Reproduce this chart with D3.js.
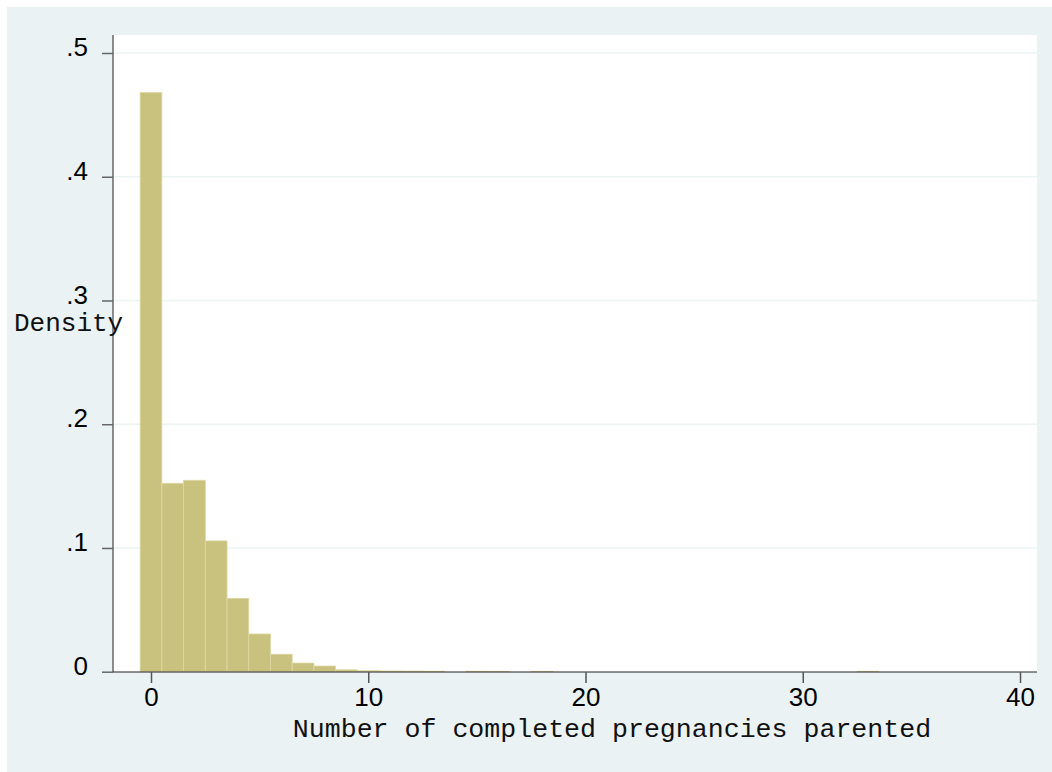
<!DOCTYPE html>
<html>
<head>
<meta charset="utf-8">
<script src="https://cdn.jsdelivr.net/npm/d3@7"></script>
<style>
  body { margin: 0; background: #fff; }
  svg { display: block; }
</style>
</head>
<body>
<svg id="chart" width="1052" height="772"></svg>
<script>
// histogram bins (bin centre, width 1) and their density
let binCenters = [0, 1, 2, 3, 4, 5, 6, 7, 8, 9, 10, 11, 12, 13, 15, 16, 18, 33]
let densities = [0.468, 0.1523, 0.1547, 0.1057, 0.0593, 0.0305, 0.0141, 0.0070, 0.0046, 0.0015,
    0.0008, 0.0006, 0.0005, 0.0004, 0.0004, 0.0003, 0.0003, 0.0004]
let xTicks = [0, 10, 20, 30, 40]
let yTicks = [0, 0.1, 0.2, 0.3, 0.4, 0.5]
let yTickLabels = ["0", ".1", ".2", ".3", ".4", ".5"]

let svg = d3.select("#chart")

// outer graph region
svg.append("rect").attr("x", 7).attr("y", 7).attr("width", 1045).attr("height", 765).attr("fill", "#eaf2f3")

let plot = { left: 113, right: 1037, top: 35, bottom: 672 }

svg.append("rect")
    .attr("x", plot.left)
    .attr("y", plot.top)
    .attr("width", plot.right - plot.left)
    .attr("height", plot.bottom - plot.top)
    .attr("fill", "#fff")

let x = d3.scaleLinear().domain([0, 40]).range([151, 1020])
let y = d3.scaleLinear().domain([0, 0.5]).range([671.7, 53])

// grid
svg.append("g")
    .selectAll("line")
    .data(yTicks.slice(1))
    .enter()
    .append("line")
    .attr("x1", plot.left)
    .attr("x2", plot.right)
    .attr("y1", (d) => y(d))
    .attr("y2", (d) => y(d))
    .attr("stroke", "#edf3f3")
    .attr("stroke-width", 1.5)

// bars
svg.append("g")
    .selectAll("rect")
    .data(binCenters)
    .enter()
    .append("rect")
    .attr("x", (d) => x(d - 0.5))
    .attr("width", (d) => x(d + 0.5) - x(d - 0.5))
    .attr("y", (d, i) => y(densities[i]))
    .attr("height", (d, i) => y(0) - y(densities[i]))
    .attr("fill", "#c9c27e")
    .attr("stroke", "#ddd8a4")
    .attr("stroke-width", 0.8)

// y axis
let yAxis = d3.axisLeft(y)
    .tickValues(yTicks)
    .tickFormat((d, i) => yTickLabels[i])
    .tickSize(11)
    .tickPadding(14)

let gy = svg.append("g").attr("transform", "translate(" + plot.left + ",0)").call(yAxis)
gy.select(".domain").attr("d", "M0," + plot.top + "V" + plot.bottom).attr("stroke", "#222")
gy.selectAll(".tick line").attr("stroke", "#666").attr("stroke-width", 1.5)
gy.selectAll(".tick text")
    .attr("font-family", "Arial, 'Liberation Sans', sans-serif")
    .attr("font-size", 26)
    .attr("fill", "#000")
    .attr("dy", "0.1em")

// x axis
let xAxis = d3.axisBottom(x).tickValues(xTicks).tickSize(11).tickPadding(5)

let gx = svg.append("g").attr("transform", "translate(0," + plot.bottom + ")").call(xAxis)
gx.select(".domain").attr("d", "M" + plot.left + ",0H" + plot.right).attr("stroke", "#222")
gx.selectAll(".tick line").attr("stroke", "#555").attr("stroke-width", 1.5)
gx.selectAll(".tick text")
    .attr("font-family", "Arial, 'Liberation Sans', sans-serif")
    .attr("font-size", 26)
    .attr("fill", "#000")

// axis titles
svg.append("text")
    .attr("x", 14)
    .attr("y", 331)
    .attr("font-family", "'Courier New', 'Liberation Mono', monospace")
    .attr("font-size", 26)
    .attr("fill", "#111")
    .text("Density")

svg.append("text")
    .attr("x", 612)
    .attr("y", 737)
    .attr("text-anchor", "middle")
    .attr("font-family", "'Courier New', 'Liberation Mono', monospace")
    .attr("font-size", 26.6)
    .attr("fill", "#111")
    .text("Number of completed pregnancies parented")
</script>
</body>
</html>
